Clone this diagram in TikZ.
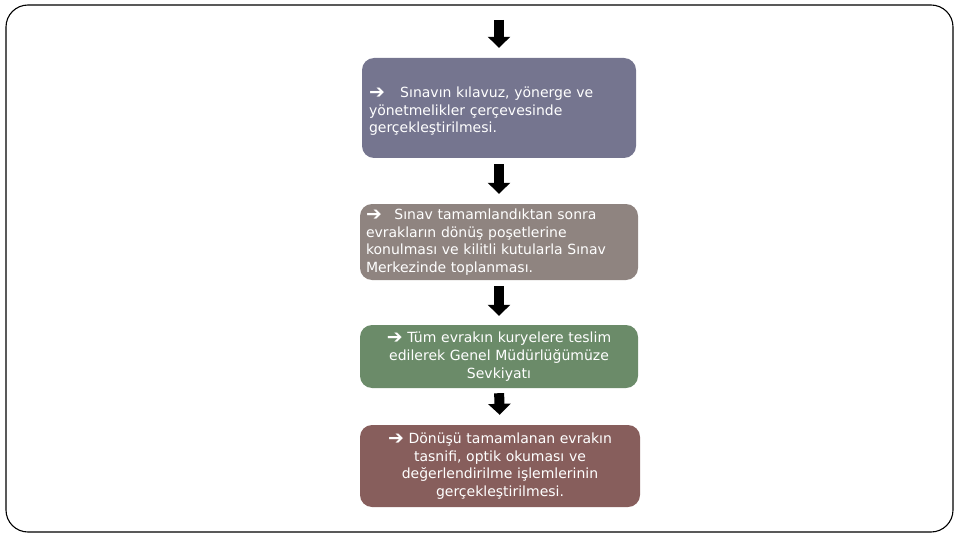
\documentclass[tikz,border=0pt]{standalone}
\usepackage{fontspec}
\setmainfont{DejaVu Sans}
\usepackage{xcolor}
\usetikzlibrary{arrows.meta, positioning}
\definecolor{stepone}{RGB}{117,117,143}
\definecolor{steptwo}{RGB}{143,132,128}
\definecolor{stepthree}{RGB}{107,139,105}
\definecolor{stepfour}{RGB}{135,94,92}
\newcommand{\pointer}{\raisebox{-1pt}{\scalebox{1.35}{➔}}}

\begin{document}
\begin{tikzpicture}[x=1pt, y=-1pt,
    box/.style={rounded corners=12pt, text=white, inner sep=0pt,
      font=\fontsize{14}{17.7}\selectfont},
    blockarrow/.style={line width=10pt, -{Triangle[length=11pt, width=22pt]}}]

  \useasboundingbox (0,0) rectangle (960,540);

  % outer frame
  \draw[line width=1.1pt, rounded corners=22pt] (6,5) rectangle (953,532);

  % steps
  \node[box, fill=stepone, minimum width=274pt, minimum height=100pt,
    text width=260pt, align=left] (s1) at (499,108)
    {\rule{0pt}{17pt}\pointer\hspace{1.1em}Sınavın kılavuz, yönerge ve\\ yönetmelikler çerçevesinde\\ gerçekleştirilmesi.};
  \node[box, fill=steptwo, minimum width=278pt, minimum height=76pt,
    text width=266pt, align=left] (s2) at (499,242)
    {\pointer\hspace{0.9em}Sınav tamamlandıktan sonra\\ evrakların dönüş poşetlerine\\ konulması ve kilitli kutularla Sınav\\ Merkezinde toplanması.};
  \node[box, fill=stepthree, minimum width=278pt, minimum height=63pt,
    text width=266pt, align=center] (s3) at (499,356.5)
    {\pointer\ Tüm evrakın kuryelere teslim\\ edilerek Genel Müdürlüğümüze\\ Sevkiyatı};
  \node[box, fill=stepfour, minimum width=280pt, minimum height=82pt,
    text width=268pt, align=center] (s4) at (500,466)
    {\pointer\ Dönüşü tamamlanan evrakın\\ tasnifi, optik okuması ve\\ değerlendirilme işlemlerinin\\ gerçekleştirilmesi.};

  % arrows
  \coordinate (top) at (499,20);
  \draw[blockarrow, shorten >=10pt] (top) -- (s1.north);
  \draw[blockarrow, shorten <=6pt, shorten >=10pt] (s1.south) -- (s2.north);
  \draw[blockarrow, shorten <=6pt, shorten >=9pt] (s2.south) -- (s3.north);
  \draw[blockarrow, shorten <=5pt, shorten >=10pt] (s3.south) -- (s4.north);
\end{tikzpicture}
\end{document}
